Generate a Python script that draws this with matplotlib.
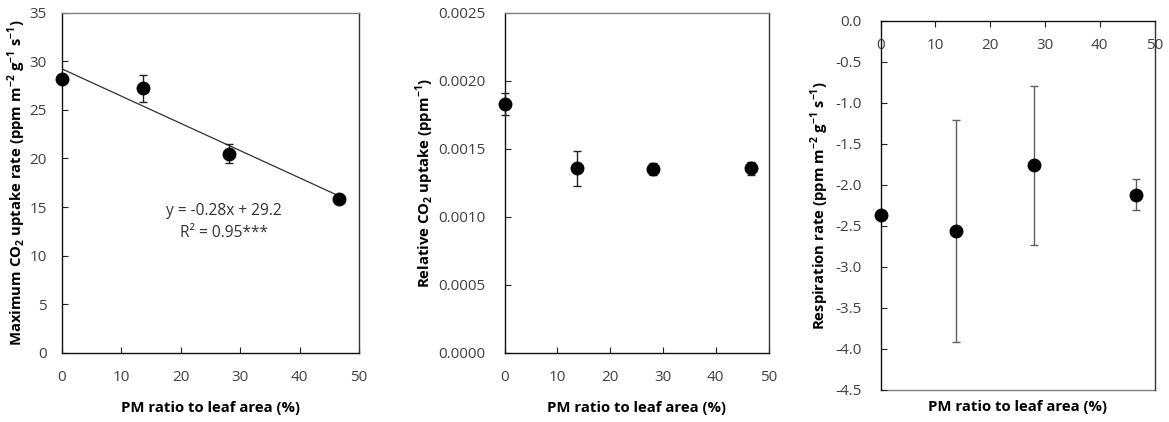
import matplotlib
matplotlib.use("Agg")
import matplotlib.pyplot as plt
import numpy as np

plt.rcParams['font.family'] = ['Open Sans', 'DejaVu Sans']
plt.rcParams['mathtext.fontset'] = 'custom'
plt.rcParams['mathtext.rm'] = 'Open Sans'
plt.rcParams['mathtext.bf'] = 'Open Sans:bold'

# PM coverage of leaf area (%)
pm_ratio = [0.0, 13.7, 28.1, 46.6]

# Maximum CO2 uptake rate and its standard error
max_uptake = [28.2, 27.2, 20.5, 15.85]
max_uptake_err = [0.0, 1.4, 0.95, 0.0]

# Relative CO2 uptake and its standard error
rel_uptake = [0.00183, 0.001355, 0.00135, 0.001355]
rel_uptake_err = [0.00008, 0.00013, 0.000045, 0.00005]

# Respiration rate and its standard error
resp_rate = [-2.37, -2.56, -1.76, -2.12]
resp_rate_err = [0.0, 1.35, 0.97, 0.19]

# Linear fit of maximum uptake vs PM ratio
fit_slope = -0.28
fit_intercept = 29.2
fit_r2 = 0.95

W, H = 1169, 422
fig = plt.figure(figsize=(W / 100, H / 100), dpi=100)

tick_color = '#404040'
label_size = 10.7
tick_size = 11
xlabel = 'PM ratio to leaf area (%)'


def frac(left, top, right, bottom):
    return [left / W, 1 - bottom / H, (right - left) / W, (bottom - top) / H]


def style_axes(ax, xpad, ypad):
    ax.tick_params(axis='both', which='both', direction='in', length=4,
                   width=0.8, color='#222222', labelcolor=tick_color,
                   labelsize=tick_size)
    ax.tick_params(axis='x', pad=xpad)
    ax.tick_params(axis='y', pad=ypad)
    ax.spines['left'].set_color('#111111')
    ax.spines['bottom'].set_color('#111111')
    ax.spines['right'].set_color('#333333')
    ax.spines['top'].set_color('#808080')
    for s in ax.spines.values():
        s.set_linewidth(1.0)


def draw_points(ax, y, yerr, ecolor):
    ax.errorbar(pm_ratio, y, yerr=yerr, fmt='o', color='black', ms=9,
                ecolor=ecolor, elinewidth=1.0, capsize=3, capthick=1.0,
                zorder=3, clip_on=False)


def y_label(ax, text, x_px, left_px, width_px):
    ax.set_ylabel(text, fontsize=label_size, fontweight='bold', va='center')
    ax.yaxis.set_label_coords((x_px - left_px) / width_px, 0.5)


# Panel 1: maximum CO2 uptake
ax1 = fig.add_axes(frac(62, 12.5, 359, 353))
xfit = np.array([pm_ratio[0], pm_ratio[-1]])
ax1.plot(xfit, fit_slope * xfit + fit_intercept, color='#303030', lw=0.9, zorder=2)
draw_points(ax1, max_uptake, max_uptake_err, '#222222')
ax1.set_xlim(0, 50)
ax1.set_ylim(0, 35)
ax1.set_xticks(range(0, 51, 10))
ax1.set_yticks(range(0, 36, 5))
style_axes(ax1, 12.5, 11)
y_label(ax1, r'Maximum CO$_\mathbf{2}$ uptake rate (ppm m$^\mathbf{-2}$ g$^\mathbf{-1}$ s$^\mathbf{-1}$)',
        16.7, 62, 297)
ax1.text(27.3, 14.6, f'y = {fit_slope:.2f}x + {fit_intercept:.1f}', ha='center', va='center',
         fontsize=11.2, color='#333333')
ax1.text(27.3, 12.3, f'R² = {fit_r2:.2f}***', ha='center', va='center',
         fontsize=11.2, color='#333333')
fig.text((62 + 359) / 2 / W, (H - 408) / H, xlabel, ha='center', va='center',
         fontsize=label_size, fontweight='bold')

# Panel 2: relative CO2 uptake
ax2 = fig.add_axes(frac(504.5, 12.5, 768.5, 353))
draw_points(ax2, rel_uptake, rel_uptake_err, '#222222')
ax2.set_xlim(0, 50)
ax2.set_ylim(0, 0.0025)
ax2.set_xticks(range(0, 51, 10))
ax2.set_yticks(np.arange(0, 0.00251, 0.0005))
ax2.set_yticklabels([f'{v:.4f}' for v in np.arange(0, 0.00251, 0.0005)])
style_axes(ax2, 12.5, 13.5)
y_label(ax2, r'Relative CO$_\mathbf{2}$ uptake (ppm$^\mathbf{-1}$)', 425, 504.5, 264)
fig.text((504.5 + 768.5) / 2 / W, (H - 408) / H, xlabel, ha='center', va='center',
         fontsize=label_size, fontweight='bold')

# Panel 3: respiration rate, x axis drawn along y = 0
ax3 = fig.add_axes(frac(880.5, 20.7, 1154.5, 390))
draw_points(ax3, resp_rate, resp_rate_err, '#606060')
ax3.set_xlim(0, 50)
ax3.set_ylim(-4.5, 0)
ax3.set_xticks(range(0, 51, 10))
ax3.set_yticks(np.arange(-4.5, 0.01, 0.5))
ax3.set_yticklabels([f'{v:.1f}' for v in np.arange(-4.5, 0.01, 0.5)])
style_axes(ax3, 12.5, 13.5)
ax3.spines['bottom'].set_position(('data', 0))
ax3.spines['bottom'].set_color('#111111')
ax3.spines['top'].set_visible(False)
ax3.tick_params(axis='x', direction='out', pad=8.5)
ax3.axhline(-4.5, color='#808080', lw=1.0, clip_on=False, zorder=1)
y_label(ax3, r'Respiration rate (ppm m$^\mathbf{-2}$ g$^\mathbf{-1}$ s$^\mathbf{-1}$)', 820, 880.5, 274)
fig.text((880.5 + 1154.5) / 2 / W, (H - 407) / H, xlabel, ha='center', va='center',
         fontsize=label_size, fontweight='bold')

fig.savefig('out.png', dpi=100)
